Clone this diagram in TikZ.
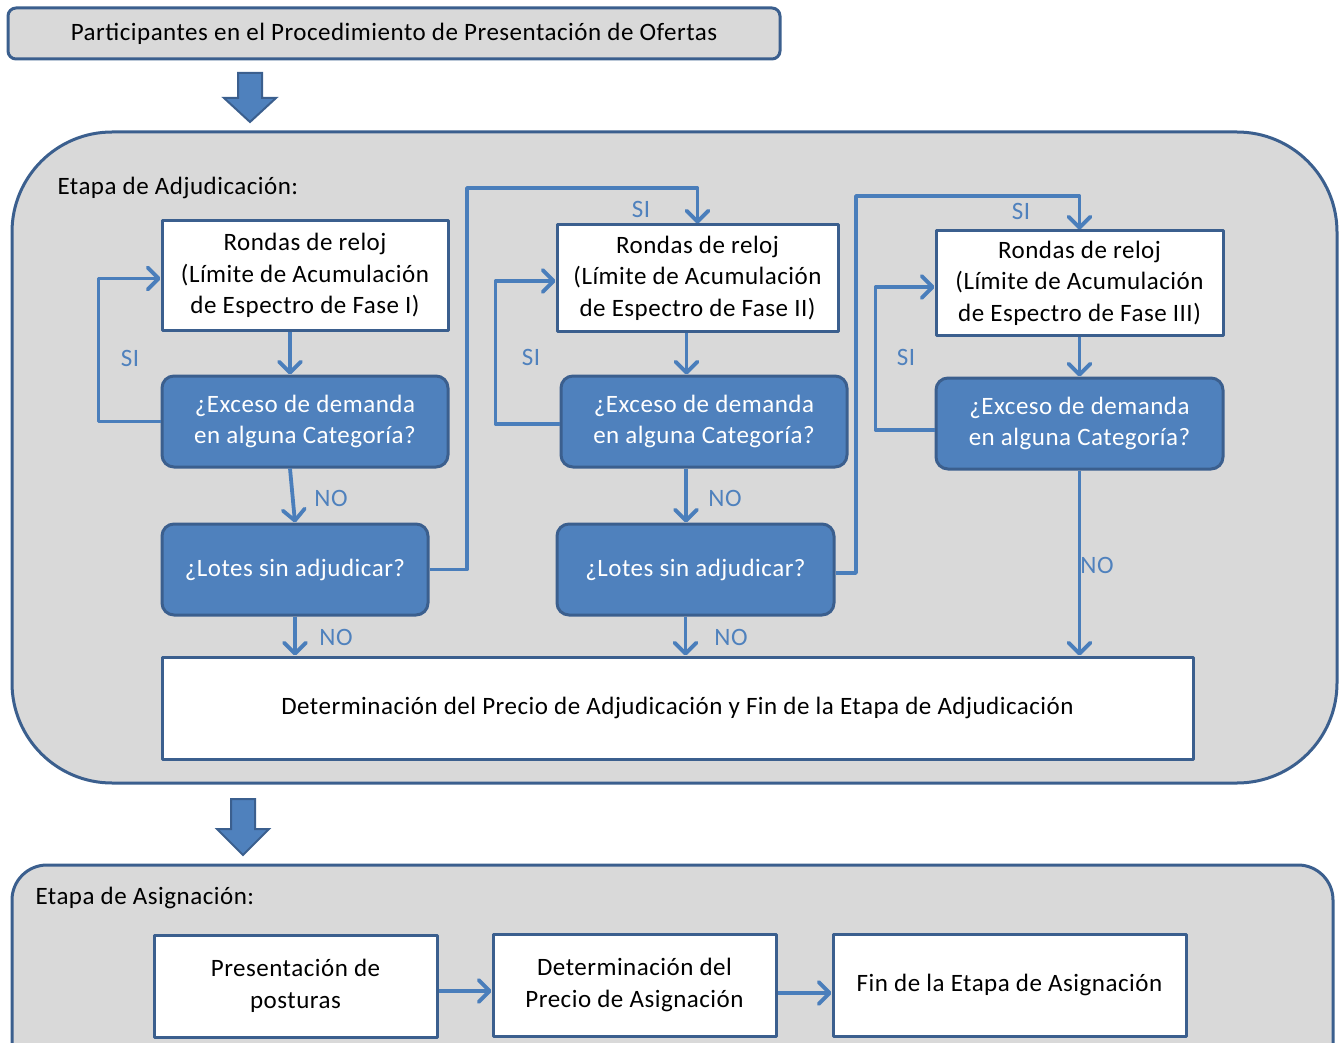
\documentclass[tikz,border=0pt]{standalone}
\usepackage{fontspec}
\setmainfont{Carlito}[LetterSpace=2.0]
\usetikzlibrary{arrows.meta}
\definecolor{azul}{HTML}{4F81BD}
\definecolor{borde}{HTML}{3B5F8E}
\definecolor{linea}{HTML}{4A7EBB}
\definecolor{fondo}{HTML}{D9D9D9}
\tikzset{
	caja/.style={draw=borde, line width=3pt, fill=white, align=center, inner sep=2pt},
	pregunta/.style={draw=borde, line width=3pt, fill=azul, text=white, rounded corners=12pt, align=center, minimum height=91pt},
	flecha/.style={->, draw=linea, line width=3.8pt},
	etq/.style={text=azul, inner sep=0pt},
	zona/.style={draw=borde, line width=3pt, fill=fondo},
	bloque/.style={draw=borde, line width=2pt, fill=azul, line join=miter}
}
\begin{document}
\begin{tikzpicture}[x=1pt, y=-1pt, >={Straight Barb[length=11pt,width=22pt,round]}, font=\fontsize{25}{31.5}\selectfont, line join=round]
			\useasboundingbox (0,0) rectangle (1339,1043);
			\draw[zona, rounded corners=100pt] (12,132) rectangle (1337,783);
			\draw[zona, rounded corners=35pt] (12,865) rectangle (1333,1090);
			\node[caja, fill=fondo, rounded corners=8pt, minimum width=772pt, minimum height=51pt] (part) at (394,33.5) {Participantes en el Procedimiento de Presentación de Ofertas};
			\draw[bloque] (238,73)--(262,73)--(262,98)--(276,98)--(250,122)--(224,98)--(238,98)--cycle;
			\draw[bloque] (231,799)--(255,799)--(255,829)--(269,829)--(243,855)--(217,829)--(231,829)--cycle;
			\node[anchor=west] (adj) at (54,188) {Etapa de Adjudicación:};
			\node[anchor=west] (asig) at (32,898) {Etapa de Asignación:};
			\node[caja, minimum width=286pt, minimum height=109pt] (ron1) at (305,275.5) {Rondas de reloj\\(Límite de Acumulación\\de Espectro de Fase I)};
			\node[caja, minimum width=281pt, minimum height=106pt] (ron2) at (697.5,278) {Rondas de reloj\\(Límite de Acumulación\\de Espectro de Fase II)};
			\node[caja, minimum width=287pt, minimum height=104pt] (ron3) at (1079.5,283) {Rondas de reloj\\(Límite de Acumulación\\de Espectro de Fase III)};
			\node[pregunta, minimum width=286pt] (exc1) at (305,421.5) {¿Exceso de demanda\\en alguna Categoría?};
			\node[pregunta, minimum width=286pt] (exc2) at (704,421.5) {¿Exceso de demanda\\en alguna Categoría?};
			\node[pregunta, minimum width=287pt] (exc3) at (1079.5,423.5) {¿Exceso de demanda\\en alguna Categoría?};
			\node[pregunta, minimum width=266pt] (lot1) at (295,569.5) {¿Lotes sin adjudicar?};
			\node[pregunta, minimum width=277pt] (lot2) at (695.5,569.5) {¿Lotes sin adjudicar?};
			\node[caja, minimum width=1031pt, minimum height=102pt] (fin) at (677.5,708) {Determinación del Precio de Adjudicación y Fin de la Etapa de Adjudicación};
			\node[caja, minimum width=283pt, minimum height=102pt] (pres) at (295.5,986) {Presentación de\\posturas};
			\node[caja, minimum width=283pt, minimum height=102pt] (det) at (634.5,985) {Determinación del\\Precio de Asignación};
			\node[caja, minimum width=353pt, minimum height=102pt] (fina) at (1009.5,985) {Fin de la Etapa de Asignación};
			\coordinate (c1) at (467,188);
			\coordinate (c2) at (856,196);
			\draw[flecha] ([xshift=-15pt]ron1.south) -- ([xshift=-15pt]exc1.north);
			\draw[flecha] ([xshift=-15pt]exc1.south) -- (lot1.north);
			\draw[flecha] (lot1.south) -- (lot1.south |- fin.north);
			\draw[flecha] (exc1.west) -- ++(-62,0) |- ([yshift=-3pt]ron1.west);
			\draw[flecha] (lot1.east) -| (c1) -| (ron2.north);
			\draw[flecha] ([xshift=-11pt]ron2.south) -- ([xshift=-11pt]ron2.south |- exc2.north);
			\draw[flecha] ([xshift=-18pt]exc2.south) -- ([xshift=-18pt]exc2.south |- lot2.north);
			\draw[flecha] ([xshift=-10pt]lot2.south) -- ([xshift=-10pt]lot2.south |- fin.north);
			\draw[flecha] ([yshift=-2.5pt]exc2.west) -- ++(-64,0) |- ([yshift=-3pt]ron2.west);
			\draw[flecha] ([yshift=-3.5pt]lot2.east) -| (c2) -| (ron3.north);
			\draw[flecha] (ron3.south) -- (exc3.north);
			\draw[flecha] ([yshift=-6.5pt]exc3.west) -- ++(-59,0) |- ([yshift=-4pt]ron3.west);
			\draw[flecha] (exc3.south) -- (exc3.south |- fin.north);
			\draw[flecha] ([yshift=-5pt]pres.east) -- ([yshift=-6pt]det.west);
			\draw[flecha] ([yshift=-8pt]det.east) -- ([yshift=-8pt]fina.west);
			\node[etq] (si1) at (130,358) {SI};
			\node[etq] (si2) at (641,209) {SI};
			\node[etq] (si3) at (531,357) {SI};
			\node[etq] (si4) at (1021,211) {SI};
			\node[etq] (si5) at (906,357) {SI};
			\node[etq] (no1) at (331,498) {NO};
			\node[etq] (no2) at (336,637) {NO};
			\node[etq] (no3) at (725,498) {NO};
			\node[etq] (no4) at (731,637) {NO};
			\node[etq] (no5) at (1097,565) {NO};
		\end{tikzpicture}
\end{document}
